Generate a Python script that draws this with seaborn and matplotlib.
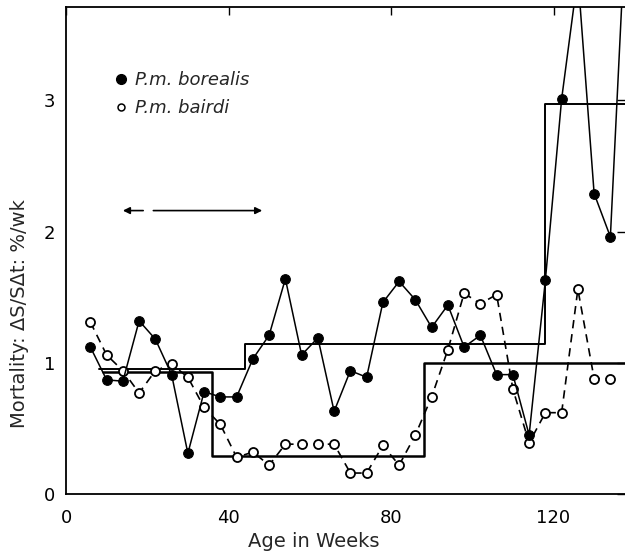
import matplotlib
matplotlib.use('Agg')
import matplotlib.pyplot as plt
from matplotlib.lines import Line2D
import seaborn as sns

# Values (weekly mortality, % per week)
weeks = [6, 10, 14, 18, 22, 26, 30, 34, 38, 42, 46, 50, 54, 58, 62, 66, 70,
         74, 78, 82, 86, 90, 94, 98, 102, 106, 110, 114, 118, 122, 126, 130, 134]
weeks_borealis = weeks + [138]
borealis = [1.12, 0.87, 0.86, 1.32, 1.18, 0.91, 0.31, 0.78, 0.74, 0.74, 1.03,
            1.21, 1.64, 1.06, 1.19, 0.63, 0.94, 0.89, 1.46, 1.62, 1.48, 1.27,
            1.44, 1.12, 1.21, 0.91, 0.91, 0.45, 1.63, 3.01, 3.95, 2.29, 1.96,
            4.5]
bairdi = [1.31, 1.06, 0.94, 0.77, 0.94, 0.99, 0.89, 0.66, 0.53, 0.28, 0.32,
          0.22, 0.38, 0.38, 0.38, 0.38, 0.16, 0.16, 0.37, 0.22, 0.45, 0.74,
          1.10, 1.53, 1.45, 1.52, 0.80, 0.39, 0.62, 0.62, 1.56, 0.88, 0.88]

# step lines (mean mortality per period)
step_borealis_x = [8, 44, 118, 138]
step_borealis_y = [0.95, 1.14, 2.97, 2.97]
step_bairdi_x = [9, 36, 88, 138]
step_bairdi_y = [0.93, 0.29, 1.00, 1.00]

sns.set_style('white')
plt.rcParams['font.family'] = ['DejaVu Sans']

fig = plt.figure(figsize=(6.25, 5.52), dpi=100)
ax = fig.add_axes([0.1056, 0.105, 0.8944, 0.882])

# step lines
sns.lineplot(x=step_borealis_x, y=step_borealis_y, drawstyle='steps-post',
             estimator=None, color='black', linewidth=1.4, ax=ax)
sns.lineplot(x=step_bairdi_x, y=step_bairdi_y, drawstyle='steps-post',
             estimator=None, color='black', linewidth=1.8, ax=ax)

# P.m. bairdi - open circles, dashed
sns.lineplot(x=weeks, y=bairdi, estimator=None, color='black', linewidth=1.2,
             linestyle=(0, (5, 3.5)), marker='o', markersize=6.5,
             markerfacecolor='white', markeredgecolor='black',
             markeredgewidth=1.3, ax=ax)
# P.m. borealis - filled dots, solid
sns.lineplot(x=weeks_borealis, y=borealis, estimator=None, color='black',
             linewidth=1.1, marker='o', markersize=7, markerfacecolor='black',
             markeredgecolor='black', ax=ax)

# arrow showing the period
ax.annotate('', xy=(14, 2.16), xytext=(19, 2.16),
            arrowprops=dict(arrowstyle='-|>', color='black', lw=1.2,
                            mutation_scale=10, shrinkA=0, shrinkB=0))
ax.annotate('', xy=(48.3, 2.16), xytext=(21.5, 2.16),
            arrowprops=dict(arrowstyle='-|>', color='black', lw=1.2,
                            mutation_scale=10, shrinkA=0, shrinkB=0))

ax.set_xlim(0, 137.6)
ax.set_ylim(0, 3.71)
ax.set_xticks([0, 40, 80, 120])
ax.set_yticks([0, 1, 2, 3])
ax.tick_params(direction='in', top=True, right=True, length=6, width=1.0,
               labelsize=13, colors='black')
ax.tick_params(axis='x', pad=11)
ax.tick_params(axis='y', pad=8)
for s in ['left', 'bottom', 'top']:
    ax.spines[s].set_linewidth(1.3)
    ax.spines[s].set_color('black')
ax.spines['right'].set_visible(False)

ax.set_xlabel('Age in Weeks', fontsize=14)
ax.set_ylabel('Mortality: ΔS/SΔt: %/wk', fontsize=14)
ax.xaxis.set_label_coords(0.444, -0.078)
ax.yaxis.set_label_coords(-0.066, 0.37)

# legend with markers only
handles = [Line2D([], [], linestyle='none', marker='o', markersize=7,
                  markerfacecolor='black', markeredgecolor='black'),
           Line2D([], [], linestyle='none', marker='o', markersize=5,
                  markerfacecolor='white', markeredgecolor='black',
                  markeredgewidth=1.1)]
ax.legend(handles, ['P.m. borealis', 'P.m. bairdi'], loc='upper left',
          bbox_to_anchor=(0.085, 0.868), frameon=False, handlelength=0.8,
          handletextpad=0.4, labelspacing=0.55, borderpad=0, borderaxespad=0,
          prop={'style': 'italic', 'size': 13})

fig.savefig('out.png', dpi=100)
